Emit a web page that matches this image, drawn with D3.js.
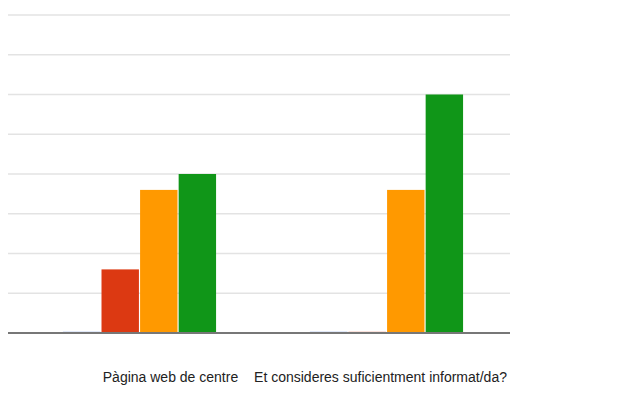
<!DOCTYPE html>
<html>
<head>
<meta charset="utf-8">
<script src="https://cdn.jsdelivr.net/npm/d3@7"></script>
<style>
  html, body { margin: 0; padding: 0; background: #fff; }
  svg { display: block; }
</style>
</head>
<body>
<svg id="chart" width="621" height="403"></svg>
<script>
const categories = ["Pàgina web de centre", "Et consideres suficientment informat/da?"];
const seriesNames = ["Gens", "Poc", "Bastant", "Molt"];
const seriesColors = ["#3366cc", "#dc3912", "#ff9900", "#109618"];
const values = [
  [0, 4, 9, 10],
  [0, 0, 9, 15]
];
const yTicks = [0, 2.5, 5, 7.5, 10, 12.5, 15, 17.5, 20];

const svg = d3.select("#chart");
const plot = { left: 8, right: 510, top: 15, bottom: 333 };

const y = d3.scaleLinear().domain([0, 20]).range([plot.bottom, plot.top]);
const x0 = d3.scaleBand().domain(categories).range([16, 510]).paddingInner(0.38).paddingOuter(0.19);
const x1 = d3.scaleBand().domain(d3.range(seriesNames.length)).range([0, x0.bandwidth()]).paddingInner(0.03);

// gridlines
svg.append("g").selectAll("line")
  .data(yTicks.filter(d => d > 0))
  .join("line")
  .attr("x1", plot.left).attr("x2", plot.right)
  .attr("y1", d => y(d)).attr("y2", d => y(d))
  .attr("stroke", "#e3e3e3").attr("stroke-width", 1.5);

// bars
const groups = svg.append("g").selectAll("g")
  .data(categories)
  .join("g")
  .attr("transform", d => `translate(${x0(d)},0)`);

groups.selectAll("rect")
  .data((d, i) => values[i].map((v, s) => ({ v, s })))
  .join("rect")
  .attr("x", d => x1(d.s))
  .attr("width", x1.bandwidth())
  .attr("y", d => d.v > 0 ? y(d.v) : y(0) - 1.5)
  .attr("height", d => d.v > 0 ? y(0) - y(d.v) : 1.5)
  .attr("fill", d => seriesColors[d.s])
  .attr("fill-opacity", d => d.v > 0 ? 1 : 0.3);

// baseline
svg.append("line")
  .attr("x1", plot.left).attr("x2", plot.right)
  .attr("y1", y(0)).attr("y2", y(0))
  .attr("stroke", "#777").attr("stroke-width", 2);

// category labels
const labelOffsets = [31, -6];
svg.append("g").selectAll("text")
  .data(categories)
  .join("text")
  .attr("x", (d, i) => x0(d) + x0.bandwidth() / 2 + labelOffsets[i])
  .attr("y", 382)
  .attr("text-anchor", "middle")
  .attr("font-family", "Liberation Sans, Arial, sans-serif")
  .attr("font-size", 14)
  .attr("fill", "#222")
  .text(d => d);
</script>
</body>
</html>
